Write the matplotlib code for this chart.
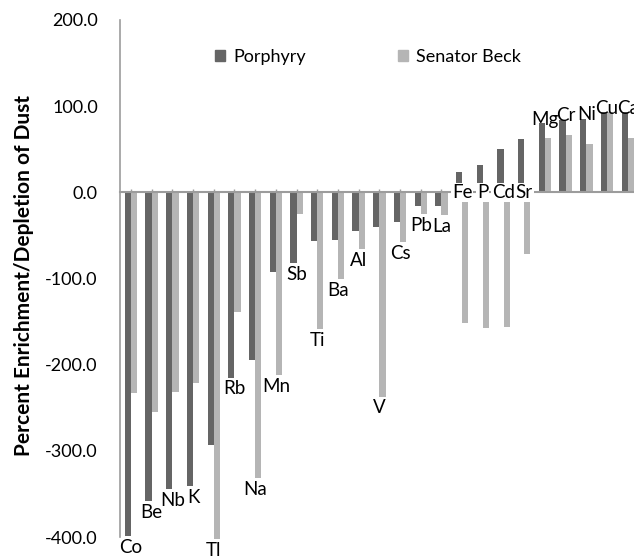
import numpy as np
import matplotlib
matplotlib.use("Agg")
import matplotlib.pyplot as plt
from matplotlib.patches import Patch

plt.rcParams['font.family'] = ['Lato', 'DejaVu Sans']
plt.rcParams['axes.unicode_minus'] = False

elements = ['Co', 'Be', 'Nb', 'K', 'Tl', 'Rb', 'Na', 'Mn', 'Sb', 'Ti', 'Ba', 'Al', 'V',
            'Cs', 'Pb', 'La', 'Fe', 'P', 'Cd', 'Sr', 'Mg', 'Cr', 'Ni', 'Cu', 'Ca']
porphyry = [-399, -358, -344, -341, -293, -215, -195, -93, -82, -57, -55, -45, -40,
            -34, -16, -16, 24, 32, 50, 62, 80, 84, 85, 93, 93]
senator_beck = [-233, -255, -232, -221, -402, -139, -332, -212, -25, -159, -101, -66, -237,
                -58, -25, -26, -152, -158, -156, -72, 63, 67, 56, 93, 63]
y_ticks = [200, 100, 0, -100, -200, -300, -400]

dark = '#656565'
light = '#b5b5b5'
axis_grey = '#9c9c9c'

fig = plt.figure(figsize=(6.34, 5.56), dpi=100)
ax = fig.add_axes([120 / 634, 19 / 556, 514 / 634, 517 / 556])

x = np.arange(len(elements))
w = 0.3
ax.bar(x - w / 2, porphyry, w, color=dark, zorder=2, clip_on=False, label='Porphyry')
ax.bar(x + w / 2, senator_beck, w, color=light, zorder=2, clip_on=False, label='Senator Beck')

# element names written next to the bar ends
for i, name in enumerate(elements):
    p, s = porphyry[i], senator_beck[i]
    if p < 0 and s < 0:
        ax.annotate(name, (x[i], min(p, s)), xytext=(0, -2), textcoords='offset points',
                    ha='center', va='top', fontsize=13.5, zorder=4, annotation_clip=False)
    elif p > 0 and s > 0:
        ax.annotate(name, (x[i], max(p, s)), xytext=(0, -1), textcoords='offset points',
                    ha='center', va='baseline', fontsize=13.5, zorder=4, annotation_clip=False)
    else:
        ax.annotate(name, (x[i], 0), ha='center', va='center', fontsize=13.5, zorder=4,
                    annotation_clip=False,
                    bbox=dict(boxstyle='square,pad=0.04', fc='white', ec='none'))

ax.set_ylim(-400, 200)
ax.set_xlim(-0.53, 24.3)
ax.set_yticks(y_ticks)
ax.set_yticklabels(['%.1f' % v for v in y_ticks], fontsize=13)
ax.tick_params(axis='y', length=0, pad=16)
ax.set_xticks(x)
ax.set_xticklabels([])
ax.tick_params(axis='x', direction='in', length=2.5, color=axis_grey, width=1)

ax.spines['top'].set_visible(False)
ax.spines['right'].set_visible(False)
ax.spines['bottom'].set_position(('data', 0))
ax.spines['bottom'].set_color(axis_grey)
ax.spines['left'].set_color(axis_grey)
ax.spines['bottom'].set_linewidth(1.5)
ax.spines['left'].set_linewidth(1.2)
ax.spines['bottom'].set_zorder(3)

fig.text(24 / 634, 1 - 276 / 556, 'Percent Enrichment/Depletion of Dust', rotation=90,
         ha='center', va='center', fontsize=15, fontweight='bold')

handles = [Patch(color=dark), Patch(color=light)]
ax.legend(handles, ['Porphyry', 'Senator Beck'], ncol=2, frameon=False, fontsize=13,
          loc='center left', bbox_to_anchor=(215 / 634, 1 - 57 / 556),
          bbox_transform=fig.transFigure, borderpad=0, borderaxespad=0,
          handlelength=0.55, handleheight=0.55, handletextpad=0.45, columnspacing=5.1)

fig.savefig('out.png', dpi=100)
